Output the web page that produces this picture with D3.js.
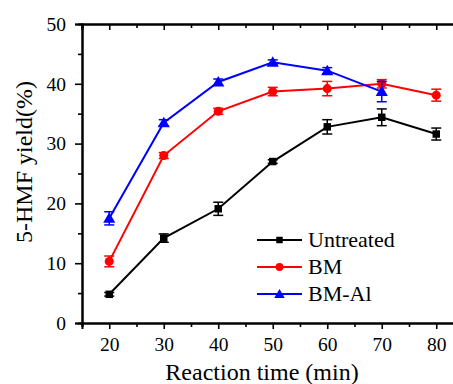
<!DOCTYPE html>
<html lang="en">
<head>
<meta charset="UTF-8">
<title>5-HMF yield</title>
<script src="https://d3js.org/d3.v7.min.js"></script>
<style>
  body { margin: 0; background: #fff; }
</style>
</head>
<body>
<script>
    const width = 453;
    const height = 384;
    const font = "'Liberation Serif', 'Times New Roman', serif";

    // data
    const times = [20, 30, 40, 50, 60, 70, 80];
    const untreated = [4.8, 14.2, 19.1, 27.0, 32.8, 34.4, 31.6];
    const untreatedErr = [0.3, 0.7, 1.1, 0.3, 1.2, 1.4, 1.0];
    const bm = [10.3, 28.0, 35.4, 38.7, 39.2, 40.0, 38.1];
    const bmErr = [0.9, 0.5, 0.5, 0.7, 1.2, 0.7, 1.0];
    const bmAl = [17.5, 33.5, 40.3, 43.6, 42.2, 38.7];
    const bmAlErr = [1.1, 0.5, 0.5, 0.4, 0.5, 1.7];
    const yTicks = [0, 10, 20, 30, 40, 50];
    const xTicks = [20, 30, 40, 50, 60, 70, 80];

    const series = [
        {name: "Untreated", values: untreated, err: untreatedErr, color: "#000", shape: "square"},
        {name: "BM", values: bm, err: bmErr, color: "#ff0000", shape: "circle"},
        {name: "BM-Al", values: bmAl, err: bmAlErr, color: "#0000ff", shape: "triangle"}
    ];

    const x = d3.scaleLinear().domain([15, 85]).range([82, 463.5]);
    const y = d3.scaleLinear().domain([0, 50]).range([323, 24]);

    const svg = d3.select("body").append("svg")
            .attr("width", width).attr("height", height)
            .attr("font-family", font);

    // axes
    const minorX = d3.range(15, 86, 5).filter(v => v % 10 !== 0);
    const minorY = d3.range(5, 50, 10);

    svg.append("g").attr("transform", "translate(0,323)")
            .call(d3.axisBottom(x).tickValues(xTicks).tickSize(6).tickPadding(8).tickFormat(d3.format("d")));
    svg.append("g").attr("transform", "translate(0,323)")
            .call(d3.axisBottom(x).tickValues(minorX).tickSize(4).tickFormat(""));

    svg.append("g").attr("transform", "translate(0,24)")
            .call(d3.axisTop(x).tickValues(xTicks).tickSize(-6).tickFormat(""));
    svg.append("g").attr("transform", "translate(0,24)")
            .call(d3.axisTop(x).tickValues(minorX).tickSize(-4).tickFormat(""));

    svg.append("g").attr("transform", "translate(82,0)")
            .call(d3.axisLeft(y).tickValues(yTicks).tickSize(7).tickPadding(9));
    svg.append("g").attr("transform", "translate(82,0)")
            .call(d3.axisLeft(y).tickValues(minorY).tickSize(4).tickFormat(""));

    svg.selectAll("g").attr("font-family", font).attr("font-size", 19.5);
    svg.selectAll(".tick text").attr("fill", "#000");
    svg.selectAll(".domain").attr("stroke", "#000").attr("stroke-width", 2);
    svg.selectAll(".tick line").attr("stroke", "#000").attr("stroke-width", 1.6);

    // titles
    svg.append("text")
            .attr("x", 262).attr("y", 380)
            .attr("text-anchor", "middle")
            .attr("font-family", font)
            .attr("font-size", 24)
            .text("Reaction time (min)");

    svg.append("text")
            .attr("transform", "translate(32,162) rotate(-90)")
            .attr("text-anchor", "middle")
            .attr("font-family", font)
            .attr("font-size", 24)
            .text("5-HMF yield(%)");

    const symbolType = {
        square: d3.symbolSquare,
        circle: d3.symbolCircle,
        triangle: d3.symbolTriangle
    };
    const symbolSize = {square: 56, circle: 64, triangle: 64};

    const line = d3.line()
            .x((d, i) => x(times[i]))
            .y(d => y(d));

    series.forEach(s => {
        const g = svg.append("g");
        g.append("path")
                .datum(s.values)
                .attr("fill", "none")
                .attr("stroke", s.color)
                .attr("stroke-width", 2)
                .attr("d", line);

        // error bars
        const eb = g.selectAll("g.err").data(s.values).enter().append("g");
        eb.append("line")
                .attr("x1", (d, i) => x(times[i])).attr("x2", (d, i) => x(times[i]))
                .attr("y1", (d, i) => y(d - s.err[i])).attr("y2", (d, i) => y(d + s.err[i]))
                .attr("stroke", s.color).attr("stroke-width", 1.5);
        [-1, 1].forEach(sign => {
            eb.append("line")
                    .attr("x1", (d, i) => x(times[i]) - 5).attr("x2", (d, i) => x(times[i]) + 5)
                    .attr("y1", (d, i) => y(d + sign * s.err[i])).attr("y2", (d, i) => y(d + sign * s.err[i]))
                    .attr("stroke", s.color).attr("stroke-width", 1.5);
        });

        g.selectAll("path.pt").data(s.values).enter().append("path")
                .attr("class", "pt")
                .attr("transform", (d, i) => `translate(${x(times[i])},${y(d) + (s.shape === "triangle" ? 1 : 0)})`)
                .attr("d", d3.symbol().type(symbolType[s.shape]).size(symbolSize[s.shape]))
                .attr("fill", s.color);
    });

    // legend
    const legend = svg.append("g");
    series.forEach((s, i) => {
        const ly = 240 + i * 27;
        legend.append("line")
                .attr("x1", 257).attr("x2", 302)
                .attr("y1", ly).attr("y2", ly)
                .attr("stroke", s.color).attr("stroke-width", 2);
        legend.append("path")
                .attr("transform", `translate(279.5,${ly + (s.shape === "triangle" ? 1 : 0)})`)
                .attr("d", d3.symbol().type(symbolType[s.shape]).size(symbolSize[s.shape] * 0.75))
                .attr("fill", s.color);
        legend.append("text")
                .attr("x", 308).attr("y", ly + 7)
                .attr("font-family", font)
                .attr("font-size", 22)
                .text(s.name);
    });
</script>
</body>
</html>
